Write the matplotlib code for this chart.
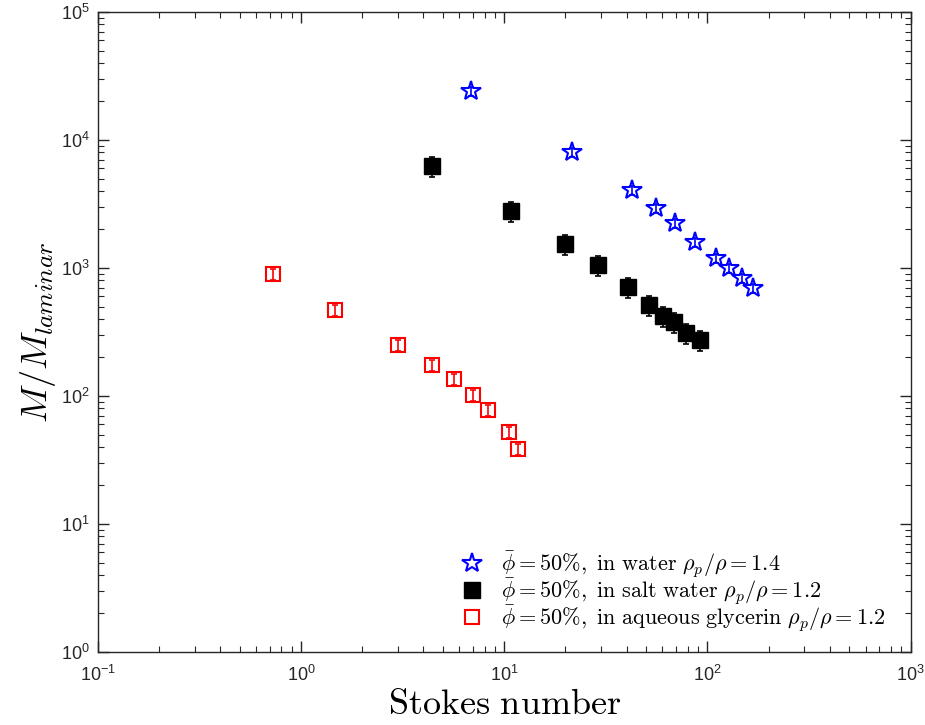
import matplotlib
matplotlib.use('Agg')
from matplotlib import pyplot as plt
from matplotlib.ticker import LogLocator, NullFormatter

plt.rcParams['mathtext.fontset'] = 'cm'
plt.rcParams['font.family'] = ['Liberation Sans', 'DejaVu Sans']

# blue stars: in water, rho_p/rho = 1.4
st_water = [6.88, 21.6, 42.7, 56.1, 69.6, 87.3, 110.7, 128.3, 148.7, 168.5]
m_water = [24150, 8055, 4065, 2943, 2247, 1596, 1197, 1000, 835, 698]
e_water = [0.08 * v for v in m_water]

# black squares: in salt water, rho_p/rho = 1.2
st_salt = [4.42, 10.8, 19.95, 29.0, 40.8, 51.8, 60.7, 68.8, 78.8, 91.4]
m_salt = [6270, 2790, 1540, 1055, 711, 514, 422, 378, 311, 274]
e_salt = [0.18 * v for v in m_salt]

# red open squares: in aqueous glycerin, rho_p/rho = 1.2
st_gly = [0.728, 1.47, 3.0, 4.42, 5.67, 7.04, 8.34, 10.5, 11.7]
m_gly = [898, 470, 250, 175, 136, 102, 77.8, 52.3, 38.5]
e_gly = [0.10 * v for v in m_gly]

labels = [
    r'$\bar{\phi} = 50\%, \mathrm{\ in\ water\ } \rho_p/\rho = 1.4$',
    r'$\bar{\phi} = 50\%, \mathrm{\ in\ salt\ water\ } \rho_p/\rho = 1.2$',
    r'$\bar{\phi} = 50\%, \mathrm{\ in\ aqueous\ glycerin\ } \rho_p/\rho = 1.2$',
]

fig = plt.figure(figsize=(9.25, 7.25), dpi=100)
ax = fig.add_axes([0.106, 0.1007, 0.8784, 0.8827])

h1, = ax.plot(st_water, m_water, '*', mfc='white', mec='#0000ff', ms=15,
              mew=1.5, label=labels[0], zorder=2)
h2, = ax.plot(st_salt, m_salt, 's', mfc='black', mec='black', ms=11,
              mew=1, label=labels[1], zorder=2)
h3, = ax.plot(st_gly, m_gly, 's', mfc='white', mec='#ff0000', ms=10,
              mew=1.5, label=labels[2], zorder=2)

# error bars drawn on top of the markers
ax.errorbar(st_water, m_water, yerr=e_water, fmt='none', ecolor='#0000ff',
            elinewidth=1.2, capsize=2.2, capthick=1.2, zorder=3)
ax.errorbar(st_salt, m_salt, yerr=e_salt, fmt='none', ecolor='black',
            elinewidth=1.2, capsize=2.5, capthick=1.2, zorder=3)
ax.errorbar(st_gly, m_gly, yerr=e_gly, fmt='none', ecolor='#ff0000',
            elinewidth=1.2, capsize=2.2, capthick=1.2, zorder=3)

ax.set_xscale('log')
ax.set_yscale('log')
ax.set_xlim(0.1, 1000)
ax.set_ylim(1, 1e5)

ax.xaxis.set_major_locator(LogLocator(base=10, numticks=10))
ax.yaxis.set_major_locator(LogLocator(base=10, numticks=10))
ax.xaxis.set_minor_locator(LogLocator(base=10, subs=range(2, 10), numticks=20))
ax.yaxis.set_minor_locator(LogLocator(base=10, subs=range(2, 10), numticks=20))
ax.xaxis.set_minor_formatter(NullFormatter())
ax.yaxis.set_minor_formatter(NullFormatter())

ax.tick_params(which='both', direction='in', top=True, right=True,
               color='#262626', labelcolor='#262626', labelsize=13)
ax.tick_params(which='major', length=8, width=1)
ax.tick_params(which='minor', length=4, width=0.8)
ax.tick_params(axis='x', which='major', pad=9)
ax.tick_params(axis='y', which='major', pad=6)
for s in ax.spines.values():
    s.set_color('#262626')
    s.set_linewidth(1)

ax.set_xlabel(r'$\mathrm{Stokes\ number}$', fontsize=26, labelpad=2)
ax.set_ylabel(r'$M/M_{laminar}$', fontsize=26, labelpad=2)

leg = ax.legend(handles=[h1, h2, h3], loc='lower right', frameon=False,
                fontsize=16, handletextpad=0.7, borderaxespad=0.3,
                labelspacing=-0.16, handlelength=1.2,
                bbox_to_anchor=(0.988, 0.004))

fig.savefig('out.png', dpi=100)
